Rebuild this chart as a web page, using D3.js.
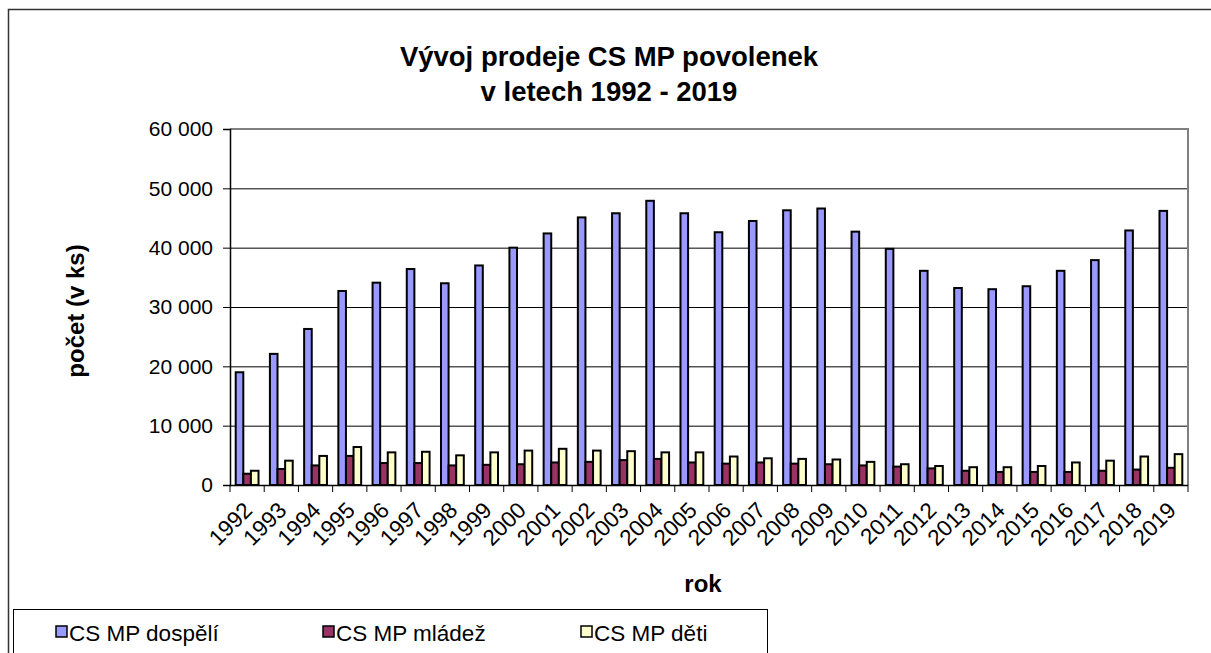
<!DOCTYPE html>
<html>
<head>
<meta charset="utf-8">
<script src="https://cdn.jsdelivr.net/npm/d3@7"></script>
<style>
  body { margin: 0; background: #fff; }
  svg { display: block; font-family: Arial, "Liberation Sans", sans-serif; }
</style>
</head>
<body>
<svg id="chart" width="1211" height="653"></svg>
<script>
var years = ['1992', '1993', '1994', '1995', '1996', '1997', '1998', '1999', '2000', '2001',
    '2002', '2003', '2004', '2005', '2006', '2007', '2008', '2009', '2010', '2011',
    '2012', '2013', '2014', '2015', '2016', '2017', '2018', '2019'];
var dospeli = [19000, 22100, 26300, 32700, 34100, 36400, 34000, 37000, 40000, 42400,
    45100, 45800, 47900, 45800, 42600, 44500, 46300, 46600, 42700, 39800,
    36100, 33200, 33000, 33500, 36100, 37900, 42900, 46200];
var mladez = [1900, 2700, 3300, 4900, 3700, 3700, 3300, 3400, 3500, 3800,
    3900, 4200, 4400, 3800, 3600, 3800, 3600, 3500, 3300, 3100,
    2800, 2400, 2200, 2200, 2200, 2400, 2600, 2900];
var deti = [2400, 4100, 4900, 6400, 5500, 5600, 5000, 5500, 5800, 6100,
    5800, 5700, 5500, 5500, 4800, 4500, 4400, 4300, 3900, 3500,
    3200, 3000, 3000, 3200, 3800, 4100, 4800, 5200];
var seriesNames = ['CS MP dospělí', 'CS MP mládež', 'CS MP děti'];
var seriesColors = ['#9999ff', '#993366', '#ffffcc'];
var yTicks = [0, 10000, 20000, 30000, 40000, 50000, 60000];

var svg = d3.select('#chart');
var values = [dospeli, mladez, deti];

var scX = d3.scaleBand().domain(years).range([230, 1188]);
// gap width 150 % as in Excel: 3 bars + 1.5 bar of gap
var bw = scX.bandwidth();
var scS = d3.scaleBand().domain([0, 1, 2]).range([bw * 0.75 / 4.5, bw * 3.75 / 4.5]);
var scY = d3.scaleLinear().domain([0, 60000]).range([485, 129]);
var fmt = d3.formatLocale({ decimal: ',', thousands: ' ', grouping: [3], currency: ['', ''] }).format(',d');

// outer frame
svg.append('rect')
    .attr('x', 8.5).attr('y', 9.5).attr('width', 1250).attr('height', 700)
    .attr('fill', 'none').attr('stroke', '#333').attr('stroke-width', 1.5);

// gridlines
svg.append('g').selectAll('line').data(yTicks.slice(1, -1)).enter().append('line')
    .attr('x1', 230).attr('x2', 1188)
    .attr('y1', d => scY(d) + 0.5).attr('y2', d => scY(d) + 0.5)
    .attr('stroke', '#000').attr('stroke-width', 1);

// plot border top/right
svg.append('path')
    .attr('d', 'M230,' + scY(60000) + 'H1188V' + scY(0))
    .attr('fill', 'none').attr('stroke', '#808080').attr('stroke-width', 2);

// bars
var grp = svg.append('g').selectAll('g').data(years).enter().append('g')
    .attr('transform', d => 'translate(' + scX(d) + ',0)');
grp.selectAll('rect').data((d, i) => values.map((s, k) => ({ k: k, v: s[i] }))).enter().append('rect')
    .attr('x', d => scS(d.k))
    .attr('width', scS.bandwidth())
    .attr('y', d => scY(d.v))
    .attr('height', d => scY(0) - scY(d.v))
    .attr('fill', d => seriesColors[d.k])
    .attr('stroke', '#000').attr('stroke-width', 2);

// y axis
var ax = svg.append('g').attr('transform', 'translate(230,0)')
    .call(d3.axisLeft(scY).tickValues(yTicks).tickFormat(fmt).tickSize(7).tickPadding(10));
ax.select('.domain').attr('stroke', '#000').attr('stroke-width', 1.5);
ax.selectAll('.tick line').attr('stroke', '#000');
ax.selectAll('text').attr('font-size', 21).attr('fill', '#000')
    .attr('font-family', 'Arial, "Liberation Sans", sans-serif');

// x axis
svg.append('line').attr('x1', 230).attr('x2', 1188).attr('y1', 485.5).attr('y2', 485.5)
    .attr('stroke', '#000').attr('stroke-width', 1.5);
var bounds = years.map(d => scX(d)).concat([1188]);
svg.append('g').selectAll('line').data(bounds).enter().append('line')
    .attr('x1', d => d).attr('x2', d => d).attr('y1', 485).attr('y2', 492)
    .attr('stroke', '#000');
svg.append('g').selectAll('text').data(years).enter().append('text')
    .attr('transform', d => 'translate(' + (scX(d) + bw / 2 + 1) + ',506) rotate(-45)')
    .attr('text-anchor', 'end')
    .attr('dy', '0.35em')
    .attr('font-size', 22.5)
    .text(d => d);

// titles
svg.append('text').attr('x', 609).attr('y', 66).attr('text-anchor', 'middle')
    .attr('font-size', 27.5).attr('font-weight', 'bold').text('Vývoj prodeje CS MP povolenek');
svg.append('text').attr('x', 609).attr('y', 101).attr('text-anchor', 'middle')
    .attr('font-size', 27.5).attr('font-weight', 'bold').text('v letech 1992 - 2019');
svg.append('text').attr('x', 703).attr('y', 592).attr('text-anchor', 'middle')
    .attr('font-size', 24).attr('font-weight', 'bold').text('rok');
svg.append('text').attr('transform', 'translate(84,311) rotate(-90)').attr('text-anchor', 'middle')
    .attr('font-size', 24).attr('font-weight', 'bold').text('počet (v ks)');

// legend
svg.append('rect').attr('x', 13.5).attr('y', 609.5).attr('width', 754).attr('height', 60)
    .attr('fill', '#fff').attr('stroke', '#000').attr('stroke-width', 1);
var legX = [56, 323, 581];
var leg = svg.append('g').selectAll('g').data(seriesNames).enter().append('g')
    .attr('transform', (d, i) => 'translate(' + legX[i] + ',0)');
leg.append('rect').attr('x', 0).attr('y', 626).attr('width', 11).attr('height', 11)
    .attr('fill', (d, i) => seriesColors[i]).attr('stroke', '#000').attr('stroke-width', 1.5);
leg.append('text').attr('x', 13).attr('y', 641).attr('font-size', 22.5).text(d => d);
</script>
</body>
</html>
